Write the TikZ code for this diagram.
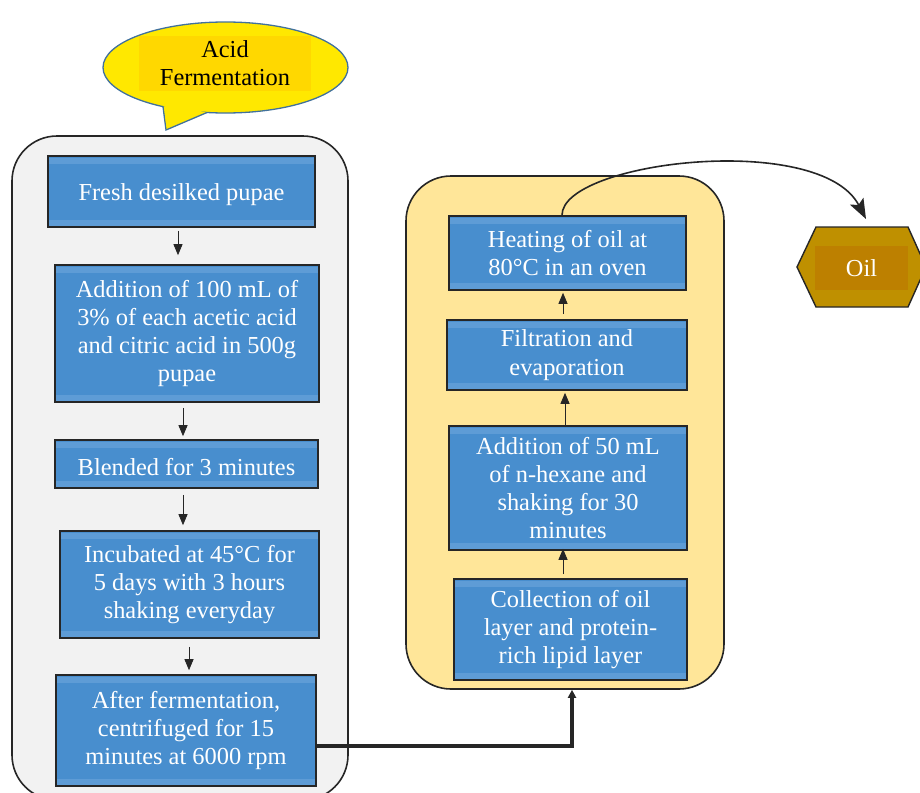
\documentclass[tikz,border=0pt]{standalone}
\usepackage{fontspec}
\setmainfont{Liberation Serif}
\usetikzlibrary{shapes.geometric,arrows.meta}
\definecolor{stepblue}{HTML}{488ECE}
\definecolor{stripblue}{HTML}{5E9CD6}
\definecolor{boxline}{HTML}{262626}
\definecolor{fermgray}{HTML}{F2F2F2}
\definecolor{extractcream}{HTML}{FFE699}
\definecolor{bubbleyellow}{HTML}{FFE800}
\definecolor{bubbleinner}{HTML}{FFD800}
\definecolor{bubbleline}{HTML}{41719C}
\definecolor{oilgold}{HTML}{BF9000}
\definecolor{oilinner}{HTML}{BD8000}
\newcommand{\stagefont}{\fontsize{24.4}{28.3}\selectfont}

\begin{document}
\begin{tikzpicture}[x=1pt,y=-1pt,
    container/.style={draw=boxline,line width=1.6pt,rounded corners=45pt,inner sep=0pt},
    lowered/.style={execute at begin node={\rule{0pt}{24pt}}},
    stage/.style={draw=boxline,line width=1.6pt,fill=stepblue,text=white,inner sep=0pt,
        align=center,font=\stagefont,lowered,
        path picture={
            \fill[stripblue] ([yshift=-1.5pt]path picture bounding box.north west)
                rectangle ([yshift=-8pt]path picture bounding box.north east);
            \fill[stripblue] ([yshift=1.5pt]path picture bounding box.south west)
                rectangle ([yshift=7pt]path picture bounding box.south east);
        }},
    flow/.style={-{Triangle[width=9pt,length=11pt]},line width=0.9pt,boxline},
    ]
    \useasboundingbox (0,0) rectangle (920,792);
    \clip (0,0) rectangle (920,792);

    % the two groups
    \node[container,fill=fermgray,minimum width=336pt,minimum height=664pt] (ferm) at (180,468) {};
    \node[container,fill=extractcream,minimum width=318pt,minimum height=513pt] (extract) at (565,432.5) {};

    % speech bubble
    \node[ellipse,draw=bubbleline,line width=1.3pt,fill=bubbleyellow,minimum width=245pt,minimum height=91pt] (bubble) at (225.5,67.5) {};
    \filldraw[draw=bubbleline,line width=1.3pt,fill=bubbleyellow] (163,106.6) -- (166,130) -- (207,112.5);
    \fill[bubbleyellow] (164,104) -- (166.5,127) -- (205,110) -- cycle;
    \node[fill=bubbleinner,minimum width=172pt,minimum height=55pt,inner sep=0pt,align=center,font=\stagefont,lowered] (title) at (225,63.5) {Acid\\Fermentation};

    % fermentation steps
    \node[stage,minimum width=267pt,minimum height=71pt] (b1) at (181.5,191.5) {Fresh desilked pupae};
    \node[stage,minimum width=264pt,minimum height=137pt] (b2) at (187,333.5) {Addition of 100 mL of\\3\% of each acetic acid\\and citric acid in 500g\\pupae};
    \node[stage,minimum width=263pt,minimum height=48pt] (b3) at (186.5,464) {Blended for 3 minutes};
    \node[stage,minimum width=259pt,minimum height=107pt] (b4) at (189.5,584.5) {Incubated at 45°C for\\5 days with 3 hours\\shaking everyday};
    \node[stage,minimum width=260pt,minimum height=111pt] (b5) at (186,730.5) {After fermentation,\\centrifuged for 15\\minutes at 6000 rpm};

    % extraction steps
    \node[stage,minimum width=237pt,minimum height=74pt] (r1) at (567.5,253) {Heating of oil at\\80°C in an oven};
    \node[stage,minimum width=240pt,minimum height=70pt] (r2) at (567,355) {Filtration and\\evaporation};
    \node[stage,minimum width=238pt,minimum height=124pt] (r3) at (568,488) {Addition of 50 mL\\of n-hexane and\\shaking for 30\\minutes};
    \node[stage,minimum width=233pt,minimum height=101pt] (r4) at (570.5,629.5) {Collection of oil\\layer and protein-\\rich lipid layer};

    % product
    \filldraw[draw=boxline,line width=1.4pt,fill=oilgold] (797,267) -- (816,227) -- (908,227) -- (926,267) -- (908,307) -- (816,307) -- cycle;
    \node[fill=oilinner,minimum width=93pt,minimum height=44pt,inner sep=0pt,text=white,font=\stagefont] (oil) at (861.5,268) {Oil};
    \coordinate (oiltop) at (866,219);

    % arrows
    \draw[flow,shorten <=3pt,shorten >=9pt] ([xshift=-3.5pt]b1.south) -- ([xshift=-3.5pt]b1.south |- b2.north);
    \draw[flow,shorten <=5pt,shorten >=3pt] ([xshift=-4pt]b2.south) -- ([xshift=-4pt]b2.south |- b3.north);
    \draw[flow,shorten <=6pt,shorten >=5pt] ([xshift=-3.5pt]b3.south) -- ([xshift=-3.5pt]b3.south |- b4.north);
    \draw[flow,shorten <=8pt,shorten >=4pt] ([xshift=-0.5pt]b4.south) -- ([xshift=-0.5pt]b4.south |- b5.north);

    \draw[flow,shorten <=4pt,shorten >=-2pt] ([xshift=-7.5pt]r4.north) -- ([xshift=-7.5pt]r4.north |- r3.south);
    \draw[flow,shorten >=2pt] ([xshift=-3pt]r3.north) -- ([xshift=-3pt]r3.north |- r2.south);
    \draw[flow,shorten <=5pt,shorten >=2pt] ([xshift=-4pt]r2.north) -- ([xshift=-4pt]r2.north |- r1.south);

    \draw[line width=3.2pt,boxline,-{Triangle[width=8pt,length=8pt]}] ([yshift=-15.5pt]b5.east) -| ([xshift=1.5pt]r4.south |- extract.south);
    \draw[line width=1.6pt,boxline,-{Stealth[length=20pt,width=15pt,inset=4pt]}] ([xshift=-5.5pt]r1.north) .. controls +(0,-54) and +(-46,-88) .. (oiltop);
\end{tikzpicture}
\end{document}
